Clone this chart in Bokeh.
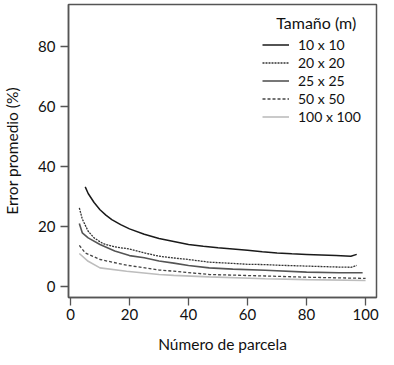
from bokeh.plotting import figure
from bokeh.models import Legend, LegendItem, Label, Range1d, FixedTicker
from bokeh.embed import file_html
from bokeh.resources import INLINE

# ---- data ----
x10 = [5, 6, 8, 10, 12, 14, 17, 20, 25, 30, 35, 40, 45, 50, 55, 60, 65, 70, 75, 80, 85, 90, 95, 97]
y10 = [33.2, 31.0, 28.0, 25.6, 23.8, 22.3, 20.6, 19.2, 17.4, 16.0, 15.0, 14.0, 13.4, 12.9, 12.5, 12.1, 11.6, 11.2, 10.9, 10.7, 10.5, 10.3, 10.1, 10.7]

x20 = [3, 4, 6, 8, 11, 15, 20, 25, 30, 35, 40, 47, 55, 60, 66, 70, 80, 90, 95, 97]
y20 = [26.2, 22.5, 18.4, 16.2, 14.3, 13.2, 12.5, 11.2, 10.1, 9.5, 9.0, 8.1, 7.7, 7.4, 7.3, 7.1, 6.8, 6.5, 6.4, 7.0]

x25 = [3, 4, 6, 10, 15, 20, 25, 30, 35, 40, 47, 55, 66, 80, 91, 99]
y25 = [21.0, 17.9, 16.2, 14.0, 11.8, 10.3, 9.6, 8.5, 7.8, 7.0, 6.2, 5.8, 5.4, 4.8, 4.6, 4.6]

x50 = [3, 5, 10, 19, 30, 35, 47, 66, 80, 100]
y50 = [13.7, 11.2, 9.0, 7.1, 5.5, 5.1, 4.0, 3.5, 3.1, 2.7]

x100 = [3, 6, 10, 19, 30, 35, 47, 66, 80, 100]
y100 = [11.0, 8.4, 6.2, 5.1, 4.0, 3.7, 3.2, 2.6, 2.3, 2.0]

labels = ["10 x 10", "20 x 20", "25 x 25", "50 x 50", "100 x 100"]
x_ticks = [0, 20, 40, 60, 80, 100]
y_ticks = [0, 20, 40, 60, 80]

FONT = "Lato"

p = figure(width=382, height=356, output_backend="svg", toolbar_location=None,
           x_range=Range1d(-0.67, 103.7), y_range=Range1d(-3.67, 94.0),
           min_border_left=63, min_border_right=6, min_border_top=4, min_border_bottom=59)
p.grid.grid_line_color = None
p.background_fill_color = "white"
p.outline_line_color = "#555555"
p.outline_line_width = 1.5

for ax in (p.xaxis[0], p.yaxis[0]):
    ax.axis_line_color = "#555555"
    ax.axis_line_width = 1.5
    ax.major_tick_line_color = "#555555"
    ax.major_tick_line_width = 1.3
    ax.major_tick_in = 0
    ax.major_tick_out = 8
    ax.minor_tick_line_color = None
    ax.major_label_text_font = FONT
    ax.major_label_text_font_size = "15px"
    ax.major_label_text_color = "#111111"
    ax.axis_label_text_font = FONT
    ax.axis_label_text_font_size = "15.5px"
    ax.axis_label_text_font_style = "normal"
    ax.axis_label_text_color = "#111111"

p.xaxis.ticker = FixedTicker(ticks=x_ticks)
p.yaxis.ticker = FixedTicker(ticks=y_ticks)
p.xaxis.axis_label = "Número de parcela"
p.yaxis.axis_label = "Error promedio (%)"
p.xaxis.major_label_standoff = 3
p.yaxis.major_label_standoff = 5
p.xaxis.axis_label_standoff = 12
p.yaxis.axis_label_standoff = 14

r1 = p.line(x10, y10, line_color="#1a1a1a", line_width=1.5)
r2 = p.line(x20, y20, line_color="#333333", line_width=1.3, line_dash="2 1")
r3 = p.line(x25, y25, line_color="#555555", line_width=1.6)
r4 = p.line(x50, y50, line_color="#444444", line_width=1.3, line_dash="3 2")
r5 = p.line(x100, y100, line_color="#bdbdbd", line_width=1.6)

legend = Legend(items=[LegendItem(label=l, renderers=[r]) for l, r in zip(labels, [r1, r2, r3, r4, r5])],
                location=(194, 172), padding=0, margin=0, spacing=1,
                glyph_width=27, glyph_height=17, label_height=17, label_standoff=9,
                label_text_font=FONT, label_text_font_size="14px", label_text_color="#111111",
                background_fill_alpha=0, border_line_color=None)
p.add_layout(legend)

p.add_layout(Label(x=69.7, y=88.0, text="Tamaño (m)", text_font=FONT, text_font_size="16px",
                   text_color="#111111", text_baseline="middle", text_align="left"))

open("out.html", "w").write(file_html(p, INLINE))
